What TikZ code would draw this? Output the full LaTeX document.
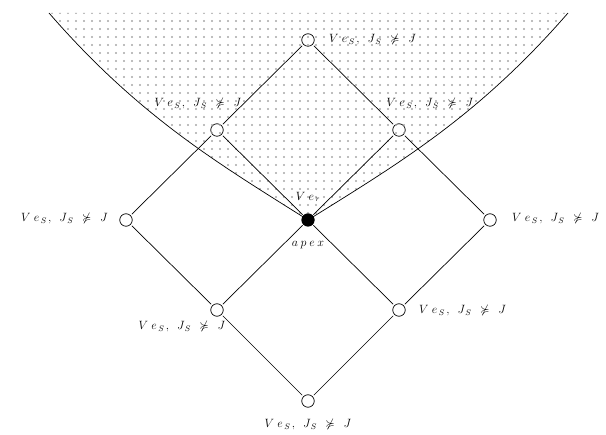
\documentclass[tikz,border=0pt]{standalone}
\usepackage{amssymb}
\newcommand\lbltxt{$V\mkern5mu e_{\mkern3mu S}\mkern2mu,\mkern9mu J_{\mkern3mu S} \mkern8mu\not\succcurlyeq\mkern8mu J$}
\begin{document}
\begin{tikzpicture}[x=1pt,y=-1pt,
  vtx/.style={circle,draw,line width=0.7pt,minimum size=12.5pt,inner sep=0pt,outer sep=2pt},
  apexv/.style={circle,fill,minimum size=13pt,inner sep=0pt,outer sep=1pt},
  lbl/.style={font=\fontsize{12}{14}\selectfont,inner sep=0pt},
  edge/.style={line width=0.7pt},
  dotc/.style={fill=black!35}]
\useasboundingbox (0,0) rectangle (606,435);
% nodes
\node[vtx] (t) at (308,40) {};
\node[vtx] (ul) at (217,130) {};
\node[vtx] (ur) at (399,130) {};
\node[apexv] (a) at (308,220) {};
\node[vtx] (l) at (126,220) {};
\node[vtx] (r) at (490,220) {};
\node[vtx] (ll) at (217,310) {};
\node[vtx] (lr) at (399,310) {};
\node[vtx] (b) at (308,401) {};
\coordinate (cl) at (49,13);
\coordinate (cr) at (568,13);
% shading
\begin{scope}
\clip (cl) .. controls (139,116.5) and (218,163.3) .. (a.center)
      .. controls (399,163.3) and (478,116.5) .. (cr) -- cycle;
\foreach \i in {0,...,75}{
  \foreach \j in {0,...,26}{
    \fill[dotc] (4+8*\i,13+8*\j) circle (1.2);
  }
}
\end{scope}
\draw[edge] (cl) .. controls (139,116.5) and (218,163.3) .. (a.center)
      .. controls (399,163.3) and (478,116.5) .. (cr);
\node[apexv] at (a) {};
% edges
\draw[edge] (t) -- (ul);
\draw[edge] (t) -- (ur);
\draw[edge] (ul) -- (a);
\draw[edge] (ur) -- (a);
\draw[edge] (ul) -- (l);
\draw[edge] (ur) -- (r);
\draw[edge] (l) -- (ll);
\draw[edge] (r) -- (lr);
\draw[edge] (a) -- (ll);
\draw[edge] (a) -- (lr);
\draw[edge] (ll) -- (b);
\draw[edge] (lr) -- (b);
% labels
\node[lbl,anchor=west] (tl) at (329,40) {\lbltxt};
\node[lbl] (ull) at (198,104) {\lbltxt};
\node[lbl] (url) at (430,104) {\lbltxt};
\node[lbl,anchor=east] (llab) at (108,219) {\lbltxt};
\node[lbl,anchor=west] (rlab) at (512,219) {\lbltxt};
\node[lbl] (lll) at (182,327) {\lbltxt};
\node[lbl,anchor=west] (lrl) at (419,311) {\lbltxt};
\node[lbl] (bl) at (308,425) {\lbltxt};
\node[lbl] (ver) at (308,197) {$V\mkern5mu e_{\mkern3mu r}$};
\node[lbl] (apx) at (308,245) {$a\mkern4mu p\mkern4mu e\mkern4mu x$};
\end{tikzpicture}
\end{document}
